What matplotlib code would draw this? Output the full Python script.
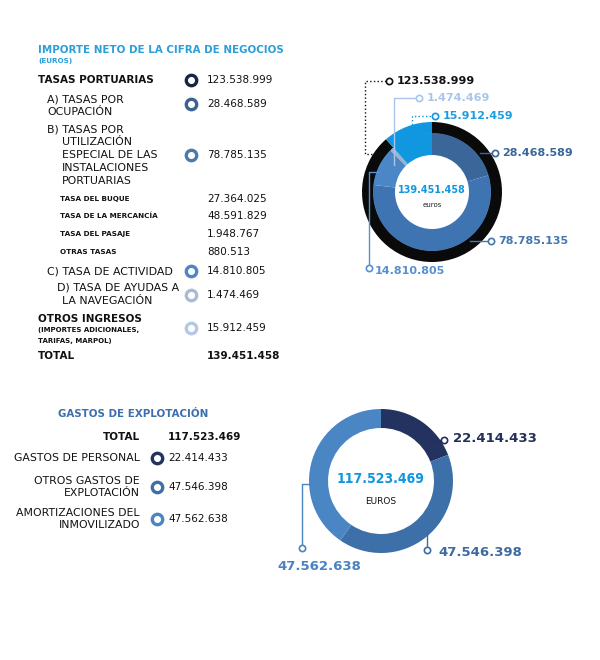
import matplotlib
matplotlib.use("Agg")
import matplotlib.pyplot as plt
from matplotlib import font_manager

# Datos (euros)
tasas_portuarias = 123538999
otros_ingresos = 15912459
total_ingresos = 139451458
tasas_labels = ["A) TASAS POR", "B) TASAS POR", "C) TASA DE ACTIVIDAD", "D) TASA DE AYUDAS A"]
tasas_values = [28468589, 78785135, 14810805, 1474469]
sub_labels = ["TASA DEL BUQUE", "TASA DE LA MERCANCÍA", "TASA DEL PASAJE", "OTRAS TASAS"]
sub_values = [27364025, 48591829, 1948767, 880513]

gastos_labels = ["GASTOS DE PERSONAL", "OTROS GASTOS DE\nEXPLOTACIÓN", "AMORTIZACIONES DEL\nINMOVILIZADO"]
gastos_values = [22414433, 47546398, 47562638]
total_gastos = 117523469

# Colores
C_TITLE = "#2a9fd8"
C_TITLE2 = "#3d6eb0"
C_BRIGHT = "#1097e0"
inner_colors = ["#3b6699", "#3f74b2", "#4b86c6", "#9bb3d3", C_BRIGHT]
outer_colors = ["#0a0a0a", C_BRIGHT]
marker_colors = ["#1c2446", "#3d6290", "#4a79b0", "#4a86c8", "#a8bcd8", "#b5c8e6"]
gastos_colors = ["#23325f", "#3d6fa8", "#4a85c4"]

# fuente estrecha para los totales del centro, si existe
narrow = None
for f in font_manager.fontManager.ttflist:
    if f.stretch in ("condensed", "semi-condensed", "extra-condensed") or "Narrow" in f.name \
            or "Condensed" in f.name:
        narrow = f
        break
if narrow is not None:
    CENTER_KW = dict(family=narrow.name, fontstretch=narrow.stretch)
else:
    CENTER_KW = dict(family="DejaVu Sans")


def fmt(v):
    return f"{v:,}".replace(",", ".")


def Y(y):
    return 660 - y


fig = plt.figure(figsize=(6, 6.6), dpi=100)
ax = fig.add_axes([0, 0, 1, 1])
renderer = fig.canvas.get_renderer()


def txt(x, y, s, size=7.9, weight="normal", color="#111111", ha="left", **kw):
    return ax.text(x, Y(y), s, fontsize=size, fontweight=weight, color=color,
                   ha=ha, va="center", **kw)


def fit_width(t, target):
    # ajusta el tamaño para que el texto ocupe el ancho del original
    w = t.get_window_extent(renderer).width
    t.set_fontsize(t.get_fontsize() * target / w)


def ring(x, y, color):
    ax.plot([x], [Y(y)], marker="o", markersize=7.5, markerfacecolor="white",
            markeredgecolor=color, markeredgewidth=2.4, linestyle="none", zorder=5)


def connector(pts, color, ls="-"):
    xs = [p[0] for p in pts]
    ys = [Y(p[1]) for p in pts]
    ax.plot(xs, ys, color=color, lw=1.0, ls=ls, zorder=4)
    ax.plot([xs[-1]], [ys[-1]], marker="o", markersize=4.5, markerfacecolor="white",
            markeredgecolor=color, markeredgewidth=1.2, zorder=5)


# ---------------- Tabla ingresos ----------------
txt(38, 50, "IMPORTE NETO DE LA CIFRA DE NEGOCIOS", size=7.4, weight="bold", color=C_TITLE)
txt(38, 61, "(EUROS)", size=5.2, weight="bold", color=C_TITLE)

VX = 207
MX = 191
txt(38, 80, "TASAS PORTUARIAS", size=7.5, weight="bold")
ring(MX, 80, marker_colors[0])
txt(VX, 80, fmt(tasas_portuarias), size=7.5)

# A)
txt(47, 99, tasas_labels[0])
txt(47, 112, "OCUPACIÓN")
ring(MX, 104, marker_colors[1])
txt(VX, 104, fmt(tasas_values[0]), size=7.5)

# B)
txt(47, 129, tasas_labels[1])
for i, s in enumerate(["UTILIZACIÓN", "ESPECIAL DE LAS", "INSTALACIONES", "PORTUARIAS"]):
    txt(62, 142 + 13 * i, s)
ring(MX, 155, marker_colors[2])
txt(VX, 155, fmt(tasas_values[1]), size=7.5)

for i, (lab, val) in enumerate(zip(sub_labels, sub_values)):
    yy = [199, 216, 234, 252][i]
    txt(60, yy, lab, size=5.2, weight="bold")
    txt(VX, yy, fmt(val), size=7.5)

# C)
txt(47, 271, tasas_labels[2])
ring(MX, 271, marker_colors[3])
txt(VX, 271, fmt(tasas_values[2]), size=7.5)

# D)
txt(57, 288, tasas_labels[3])
txt(62, 301, "LA NAVEGACIÓN")
ring(MX, 295, marker_colors[4])
txt(VX, 295, fmt(tasas_values[3]), size=7.5)

txt(38, 319, "OTROS INGRESOS", size=7.5, weight="bold")
txt(38, 330, "(IMPORTES ADICIONALES,", size=5.0, weight="bold")
txt(38, 341, "TARIFAS, MARPOL)", size=5.0, weight="bold")
ring(MX, 328, marker_colors[5])
txt(VX, 328, fmt(otros_ingresos), size=7.5)

txt(38, 356, "TOTAL", size=7.5, weight="bold")
txt(VX, 356, fmt(total_ingresos), size=7.5, weight="bold")

# ---------------- Donut ingresos ----------------
cx, cy = 432, 192
outer_values = [tasas_portuarias, otros_ingresos]
inner_values = tasas_values + [otros_ingresos]
ax.pie(outer_values, radius=70, center=(cx, Y(cy)), startangle=90, counterclock=False,
       colors=outer_colors, wedgeprops=dict(width=11.5, edgecolor="none"), frame=True)
ax.pie(inner_values, radius=59, center=(cx, Y(cy)), startangle=90, counterclock=False,
       colors=inner_colors, wedgeprops=dict(width=22, edgecolor="none"), frame=True)

t = ax.text(cx, Y(190), fmt(total_ingresos), fontsize=11, fontweight="bold",
            color=C_BRIGHT, ha="center", va="center", **CENTER_KW)
fit_width(t, 68)
ax.text(cx, Y(205), "euros", fontsize=5, color="#222222", ha="center", va="center")

connector([(383, 154), (365, 154), (365, 81), (389, 81)], "#111111", ls=":")
txt(397, 81, fmt(tasas_portuarias), size=8, weight="bold", color="#111111")
connector([(394, 165), (394, 98), (419, 98)], "#a9c6ea")
txt(427, 98, fmt(tasas_values[3]), size=8, weight="bold", color="#a9c6ea")
connector([(412, 132), (412, 116), (435, 116)], C_BRIGHT, ls=":")
txt(443, 116, fmt(otros_ingresos), size=8, weight="bold", color="#1a9ee2")
connector([(480, 153), (495, 153)], "#3b6699")
txt(502, 153, fmt(tasas_values[0]), size=8, weight="bold", color="#3b6699")
connector([(470, 241), (491, 241)], "#4676ae")
txt(498, 241, fmt(tasas_values[1]), size=8, weight="bold", color="#4676ae")
connector([(380, 172), (369, 172), (369, 268)], "#5690d0")
txt(375, 271, fmt(tasas_values[2]), size=8, weight="bold", color="#5690d0")

# ---------------- Tabla gastos ----------------
txt(133, 414, "GASTOS DE EXPLOTACIÓN", size=7.4, weight="bold", color=C_TITLE2, ha="center")
GX = 140
GV = 168
GM = 157
txt(GX, 437, "TOTAL", size=7.5, weight="bold", ha="right")
txt(GV, 437, fmt(total_gastos), size=7.5, weight="bold")
g_rows = [458, 487, 519]
for lab, val, col, yy in zip(gastos_labels, gastos_values, gastos_colors, g_rows):
    ax.text(GX, Y(yy), lab, fontsize=7.8, color="#111111", ha="right", va="center",
            multialignment="right", linespacing=1.2)
    ring(GM, yy, col)
    txt(GV, yy, fmt(val), size=7.5)

# ---------------- Donut gastos ----------------
gx, gy = 381, 481
ax.pie(gastos_values, radius=72, center=(gx, Y(gy)), startangle=90, counterclock=False,
       colors=gastos_colors, wedgeprops=dict(width=19, edgecolor="none"), frame=True)
t = ax.text(gx, Y(479), fmt(total_gastos), fontsize=13, fontweight="bold",
            color=C_BRIGHT, ha="center", va="center", **CENTER_KW)
fit_width(t, 87)
ax.text(gx, Y(502), "EUROS", fontsize=6.5, color="#111111", ha="center", va="center")

connector([(433, 440), (444, 440)], "#24305c")
txt(453, 438, fmt(gastos_values[0]), size=9.5, weight="bold", color="#24305c")
connector([(427, 530), (427, 550)], "#3e6aa2")
txt(438, 552, fmt(gastos_values[1]), size=9.5, weight="bold", color="#3e6aa2")
connector([(311, 484), (302, 484), (302, 548)], "#4a82c2")
txt(277, 566, fmt(gastos_values[2]), size=9.5, weight="bold", color="#4a82c2")

ax.set_xlim(0, 600)
ax.set_ylim(0, 660)
ax.set_aspect("equal")
ax.axis("off")
fig.savefig("out.png", dpi=100, facecolor="white")
